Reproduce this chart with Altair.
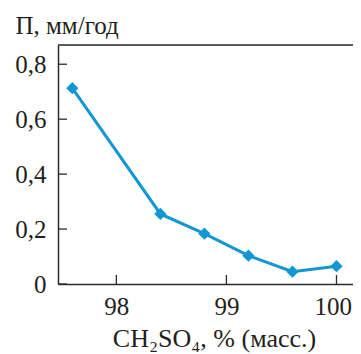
import altair as alt
import pandas as pd

# Data
conc = [97.6, 98.4, 98.8, 99.2, 99.6, 100.0]
rate = [0.713, 0.255, 0.183, 0.103, 0.045, 0.065]
y_ticks = [0, 0.2, 0.4, 0.6, 0.8]
x_ticks = [98, 99, 100]

W, H = 295, 239
BLUE = "#1296d4"
AX = "#2b2b2b"
TXT = "#231f20"
FONT = "'Times New Roman', 'Liberation Serif', 'DejaVu Serif', serif"

df = pd.DataFrame({"c": conc, "p": rate})
xs = alt.Scale(domain=[97.47, 100.15], nice=False, zero=False)
ys = alt.Scale(domain=[0, 0.87], nice=False, zero=False)

x_axis = alt.Axis(
    values=x_ticks, ticks=False, tickSize=0, labelPadding=10, labelFontSize=25,
    labelFont=FONT, labelColor=TXT, domainColor=AX, domainWidth=1.5, grid=False,
    labelFlush=20, labelFlushOffset=15, format="d",
    title="CH₂SO₄, % (масс.)", titleFont=FONT, titleFontSize=26, titleFontWeight="normal",
    titleColor=TXT, titleX=156, titleY=62, titleAlign="center", titleBaseline="alphabetic",
)
y_axis = alt.Axis(
    values=y_ticks, ticks=False, tickSize=0, labelPadding=12, labelFontSize=25,
    labelFont=FONT, labelColor=TXT, domainColor=AX, domainWidth=1.5, grid=False,
    labelFlush=False,
    labelExpr="datum.value == 0 ? '0' : replace(format(datum.value, '.1f'), '.', ',')",
    title="П, мм/год", titleFont=FONT, titleFontSize=25, titleFontWeight="normal",
    titleColor=TXT, titleAngle=0, titleX=-43, titleY=-12, titleAlign="left",
    titleBaseline="alphabetic",
)

line = alt.Chart(df).mark_line(
    color=BLUE, strokeWidth=3,
    point=alt.OverlayMarkDef(shape="diamond", size=150, filled=True, color=BLUE, opacity=1),
).encode(
    x=alt.X("c:Q", scale=xs, axis=x_axis),
    y=alt.Y("p:Q", scale=ys, axis=y_axis),
)

yt = alt.Chart(pd.DataFrame({"p": y_ticks})).mark_rule(color=AX, strokeWidth=1.3).encode(
    y=alt.Y("p:Q", scale=ys, axis=y_axis), x=alt.value(0), x2=alt.value(9)
)
xt = alt.Chart(pd.DataFrame({"c": x_ticks})).mark_rule(color=AX, strokeWidth=1.3).encode(
    x=alt.X("c:Q", scale=xs, axis=x_axis), y=alt.value(H), y2=alt.value(H - 9)
)
top = alt.Chart(pd.DataFrame({"a": [0]})).mark_rule(color=AX, strokeWidth=1.5).encode(
    x=alt.value(0), x2=alt.value(W), y=alt.value(0)
)

chart = alt.layer(top, yt, xt, line).properties(
    width=W, height=H,
    autosize=alt.AutoSizeParams(type="none"),
    padding={"left": 50, "top": 37, "right": 0, "bottom": 70},
).configure_view(stroke=None).configure(background="white")

chart.save("out.html", embed_options={"renderer": "svg", "actions": False})
